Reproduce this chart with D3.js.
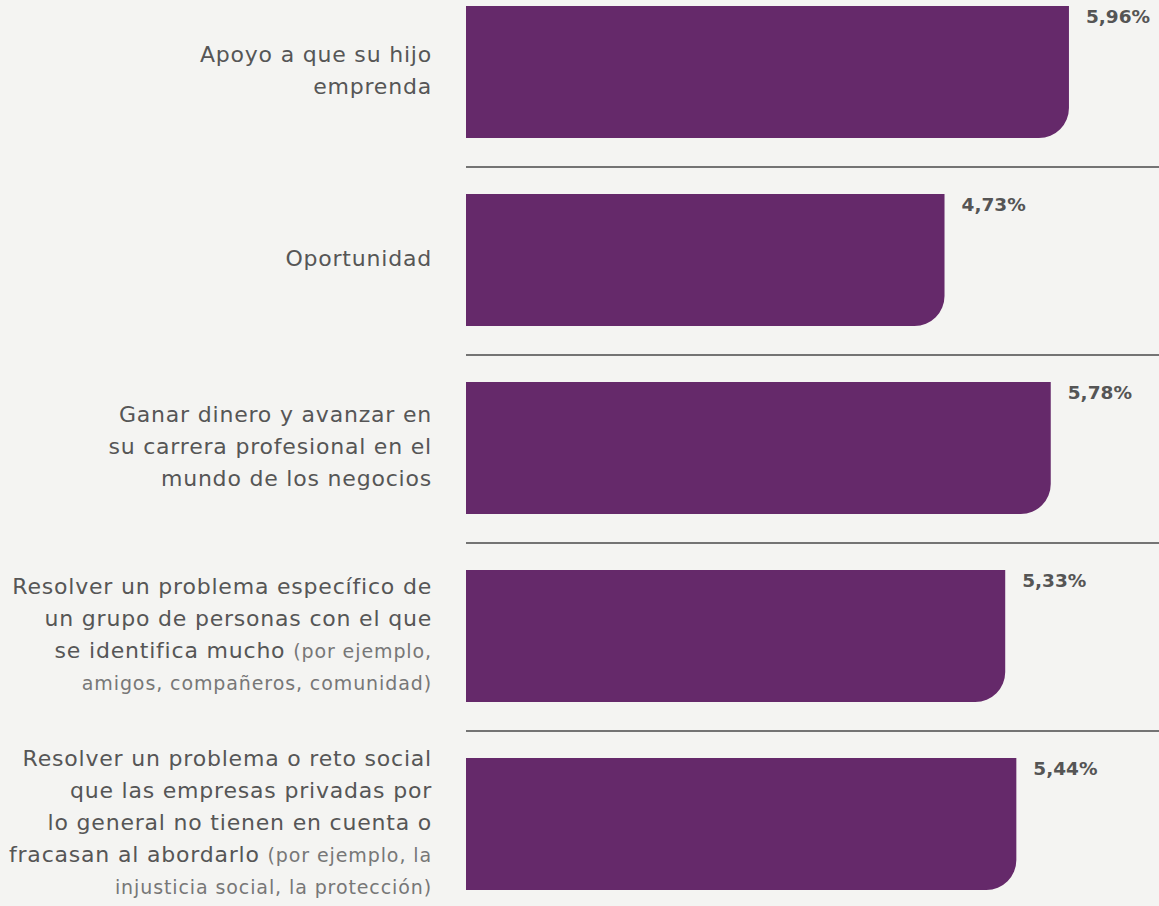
<!DOCTYPE html>
<html>
<head>
<meta charset="utf-8">
<script src="https://cdn.jsdelivr.net/npm/d3@7"></script>
<style>
  html, body { margin: 0; padding: 0; background: #f4f4f2; }
  svg { display: block; }
  .label { font-family: 'DejaVu Sans', sans-serif; fill: #565656; letter-spacing: 0.8px; }
  .note { fill: #777; letter-spacing: 0.9px; }
  .value { font-family: 'DejaVu Sans', sans-serif; font-weight: 700; fill: #555; }
</style>
</head>
<body>
<div id="chart"></div>
<script>
// categories, one entry per bar (label lines as drawn); "(" starts the small note
const categories = ['apoyo', 'oportunidad', 'dinero', 'grupo', 'social']
const labelLines = [
  ['Apoyo a que su hijo', 'emprenda'],
  ['Oportunidad'],
  ['Ganar dinero y avanzar en', 'su carrera profesional en el', 'mundo de los negocios'],
  ['Resolver un problema específico de', 'un grupo de personas con el que', 'se identifica mucho (por ejemplo,', 'amigos, compañeros, comunidad)'],
  ['Resolver un problema o reto social', 'que las empresas privadas por', 'lo general no tienen en cuenta o', 'fracasan al abordarlo (por ejemplo, la', 'injusticia social, la protección)']
]
const values = [5.96, 4.73, 5.78, 5.33, 5.44]
const valueLabels = ['5,96%', '4,73%', '5,78%', '5,33%', '5,44%']

const width = 1159
const height = 906
const margin = { top: 6, left: 466 }
const lineH = 32
const radius = 30

const chart = visual()

function visual() {
  const x = d3.scaleLinear().domain([0, 6]).range([margin.left, margin.left + 607])
  const y = d3.scaleBand().domain(categories).range([margin.top, margin.top + 884]).paddingInner(56 / 188).paddingOuter(0)

  // bar with only the bottom right corner rounded
  function barPath(x0, x1, y0, y1) {
    const r = Math.min(radius, x1 - x0, y1 - y0)
    return 'M' + x0 + ',' + y0 +
      'H' + x1 +
      'V' + (y1 - r) +
      'A' + r + ',' + r + ' 0 0 1 ' + (x1 - r) + ',' + y1 +
      'H' + x0 + 'Z'
  }

  function chart(container) {
    const svg = container.append('svg')
      .attr('width', width)
      .attr('height', height)

    svg.append('rect').attr('width', width).attr('height', height).attr('fill', '#f4f4f2')

    const rows = categories.map((c, i) => ({ c, i, v: values[i], lines: labelLines[i], txt: valueLabels[i] }))

    // separators between bars
    svg.append('g').selectAll('line')
      .data(rows.slice(0, -1))
      .enter()
      .append('line')
      .attr('x1', x(0))
      .attr('x2', width)
      .attr('y1', d => y(d.c) + y.bandwidth() + 29)
      .attr('y2', d => y(d.c) + y.bandwidth() + 29)
      .attr('stroke', '#4a4a4a')
      .attr('stroke-width', 1.6)

    svg.append('g').selectAll('path')
      .data(rows)
      .enter()
      .append('path')
      .attr('d', d => barPath(x(0), x(d.v), y(d.c), y(d.c) + y.bandwidth()))
      .attr('fill', '#65296a')

    svg.append('g').selectAll('text')
      .data(rows)
      .enter()
      .append('text')
      .attr('class', 'value')
      .attr('x', d => x(d.v) + 17)
      .attr('y', d => y(d.c) + 17)
      .attr('font-size', 18.5)
      .text(d => d.txt)

    const labels = svg.append('g').selectAll('text')
      .data(rows)
      .enter()
      .append('text')
      .attr('class', 'label')
      .attr('text-anchor', 'end')
      .attr('font-size', 22)

    labels.each(function(d) {
      const t = d3.select(this)
      const n = d.lines.length
      const cy = y(d.c) + y.bandwidth() / 2 - 2
      let inNote = false
      d.lines.forEach((line, k) => {
        const yy = cy - (n - 1) * lineH / 2 + k * lineH + 8
        let main = line
        let note = ''
        if (inNote) { main = ''; note = line }
        else if (line.indexOf('(') >= 0) {
          const p = line.indexOf('(')
          main = line.slice(0, p)
          note = line.slice(p)
          inNote = true
        }
        if (main) {
          t.append('tspan').attr('x', 432).attr('y', yy).text(main)
        }
        if (note) {
          const s = t.append('tspan').attr('class', 'note').attr('font-size', 19).text(note)
          if (!main) s.attr('x', 432).attr('y', yy)
        }
      })
    })
  }

  return chart
}

d3.select('#chart').call(chart)
</script>
</body>
</html>
